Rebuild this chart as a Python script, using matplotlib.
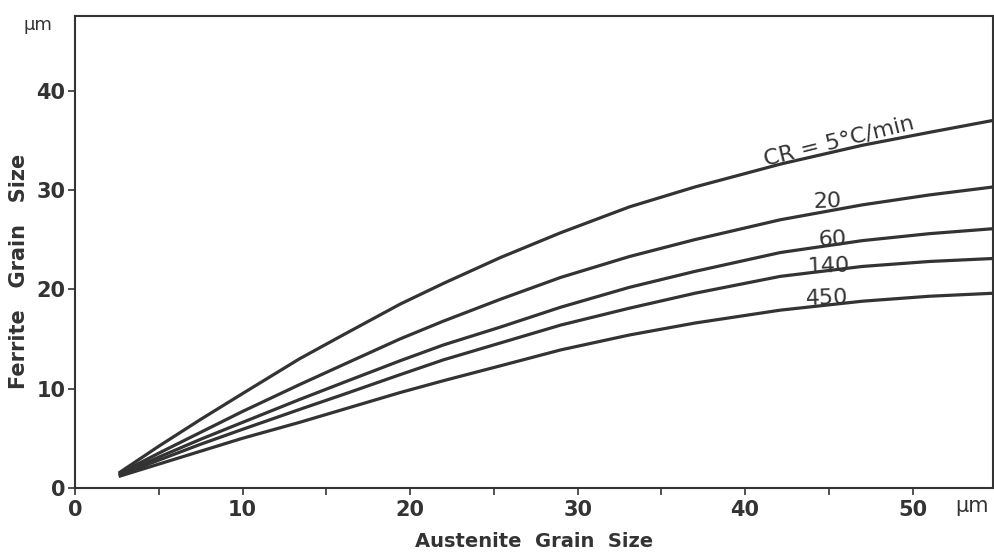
import numpy as np
import matplotlib.pyplot as plt
from matplotlib.ticker import MultipleLocator

austenite = [2.7, 5, 7.5, 10, 13.4, 16, 19.4, 22, 25.4, 29, 33.1, 37, 42.1, 47, 51, 54.8]

cr5   = [1.6, 4.2, 6.9, 9.5, 13.0, 15.4, 18.5, 20.6, 23.2, 25.7, 28.3, 30.3, 32.6, 34.5, 35.8, 37.0]
cr20  = [1.5, 3.5, 5.6, 7.7, 10.4, 12.4, 15.0, 16.8, 19.0, 21.2, 23.3, 25.0, 27.0, 28.5, 29.5, 30.3]
cr60  = [1.4, 3.1, 4.9, 6.6, 8.9, 10.6, 12.8, 14.4, 16.2, 18.2, 20.2, 21.8, 23.7, 24.9, 25.6, 26.1]
cr140 = [1.3, 2.8, 4.4, 5.9, 7.9, 9.4, 11.4, 12.9, 14.6, 16.4, 18.1, 19.6, 21.3, 22.3, 22.8, 23.1]
cr450 = [1.2, 2.4, 3.7, 5.0, 6.6, 7.9, 9.6, 10.8, 12.3, 13.9, 15.4, 16.6, 17.9, 18.8, 19.3, 19.6]

curves = [cr5, cr20, cr60, cr140, cr450]
labels = ['CR = 5°C/min', '20', '60', '140', '450']
label_pos = [(45.6, 34.9), (44.9, 28.8), (45.2, 25.0), (45.0, 22.3), (44.9, 19.1)]
label_rot = [14, 2, 2, 2, 2]

ink = '#333333'
plt.rcParams['font.family'] = ['DejaVu Sans']

fig = plt.figure(figsize=(9.95, 5.57), dpi=100)
ax = fig.add_axes([0.0754, 0.124, 0.9226, 0.847])

for ys in curves:
    ax.plot(austenite, ys, color=ink, lw=2.3, solid_joinstyle='round')

for txt, (tx, ty), rot in zip(labels, label_pos, label_rot):
    ax.text(tx, ty, txt, color=ink, fontsize=16, ha='center', va='center',
            rotation=rot, rotation_mode='anchor')

ax.set_xlim(0, 54.8)
ax.set_ylim(0, 47.5)
ax.xaxis.set_major_locator(MultipleLocator(10))
ax.xaxis.set_minor_locator(MultipleLocator(5))
ax.yaxis.set_major_locator(MultipleLocator(10))
ax.tick_params(axis='both', which='both', direction='out', color=ink, width=1.2,
               labelsize=15, labelcolor=ink)
ax.tick_params(axis='x', which='major', length=5, pad=4)
ax.tick_params(axis='x', which='minor', length=5)
ax.tick_params(axis='y', length=5, pad=2)
for lab in ax.get_xticklabels() + ax.get_yticklabels():
    lab.set_fontweight('bold')
for sp in ax.spines.values():
    sp.set_color(ink)
    sp.set_linewidth(1.5)

ax.set_xlabel('Austenite  Grain  Size', fontsize=14, fontweight='bold', color=ink, labelpad=8)
ax.set_ylabel('Ferrite   Grain   Size', fontsize=15, fontweight='bold', color=ink)
ax.yaxis.set_label_coords(-0.05, 0.46)
ax.text(-0.025, 1.0, 'μm', transform=ax.transAxes, fontsize=13, color=ink,
        ha='right', va='top')
ax.text(1.0 - 0.005, -0.018, 'μm', transform=ax.transAxes, fontsize=15, color=ink,
        ha='right', va='top')

fig.savefig('out.png', dpi=100)
